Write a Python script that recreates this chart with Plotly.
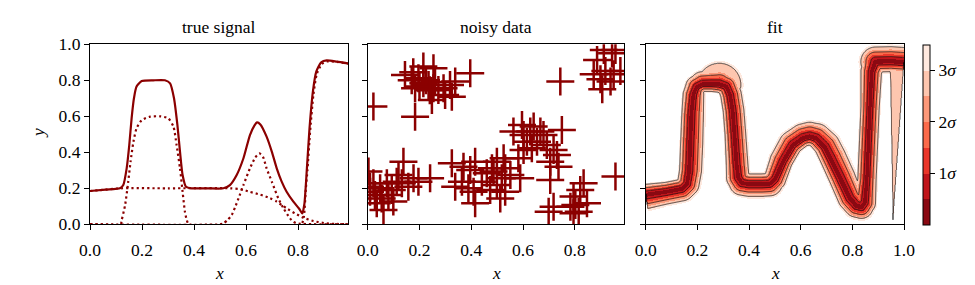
import numpy as np
import plotly.graph_objects as go

DARKRED = '#8b0000'
FONT = 'Liberation Serif, DejaVu Serif, serif'
FS = 17.5

# ---------------- true signal (left panel) ----------------
total_x = [0.0, 0.06, 0.115, 0.128, 0.141, 0.151, 0.160, 0.169, 0.179, 0.199, 0.244, 0.288,
           0.308, 0.323, 0.336, 0.346, 0.356, 0.369, 0.391, 0.45, 0.513, 0.538, 0.564, 0.59,
           0.615, 0.632, 0.642, 0.655, 0.679, 0.699, 0.718, 0.737, 0.756, 0.782, 0.805, 0.816,
           0.824, 0.834, 0.844, 0.857, 0.870, 0.889, 0.91, 0.949, 0.992]
total_y = [0.185, 0.193, 0.2, 0.218, 0.311, 0.44, 0.589, 0.70, 0.765, 0.796, 0.80, 0.80,
           0.783, 0.70, 0.552, 0.404, 0.274, 0.209, 0.2, 0.2, 0.2, 0.218, 0.274, 0.367,
           0.496, 0.548, 0.566, 0.555, 0.487, 0.404, 0.311, 0.237, 0.181, 0.126, 0.085, 0.06,
           0.11, 0.311, 0.533, 0.737, 0.848, 0.90, 0.911, 0.904, 0.894]

baseline_x = [0.0, 0.06, 0.12, 0.30, 0.54, 0.58, 0.615, 0.654, 0.692, 0.718, 0.737, 0.756,
              0.788, 0.82, 0.859, 0.91, 0.95, 0.992]
baseline_y = [0.185, 0.193, 0.2, 0.2, 0.2, 0.195, 0.18, 0.165, 0.145, 0.126, 0.107, 0.089,
              0.061, 0.037, 0.018, 0.005, 0.002, 0.0]

plateau_x = [0.0, 0.118, 0.122, 0.135, 0.147, 0.156, 0.167, 0.179, 0.199, 0.231, 0.269, 0.301,
             0.321, 0.333, 0.346, 0.356, 0.365, 0.372, 0.38, 0.992]
plateau_y = [0.0, 0.0, 0.024, 0.107, 0.237, 0.348, 0.459, 0.533, 0.579, 0.598, 0.60, 0.589,
             0.542, 0.44, 0.311, 0.181, 0.07, 0.024, 0.0, 0.0]

peak_x = [0.0, 0.50, 0.513, 0.53, 0.545, 0.558, 0.571, 0.59, 0.615, 0.635, 0.651, 0.665,
          0.679, 0.699, 0.724, 0.744, 0.769, 0.782, 0.795, 0.992]
peak_y = [0.0, 0.0, 0.005, 0.025, 0.052, 0.095, 0.144, 0.218, 0.311, 0.37, 0.394, 0.375,
          0.311, 0.237, 0.144, 0.089, 0.033, 0.015, 0.005, 0.0]

step_x = [0.0, 0.812, 0.822, 0.83, 0.836, 0.846, 0.859, 0.872, 0.891, 0.91, 0.949, 0.992]
step_y = [0.0, 0.0, 0.04, 0.2, 0.3, 0.51, 0.72, 0.835, 0.89, 0.905, 0.902, 0.892]

# ---------------- noisy data (middle panel) ----------------
noisy_x = [0.215, 0.254, 0.144, 0.176, 0.196, 0.215, 0.235, 0.254, 0.273, 0.293, 0.318, 0.338,
           0.248, 0.325, 0.396, 0.183, 0.299, 0.225, 0.26, 0.17, 0.2, 0.24,
           0.022, 0.183,
           0.003, 0.138, 0.241, 0.022, 0.048, 0.074, 0.093, 0.112, 0.132, 0.157, 0.177, 0.028,
           0.054, 0.08, 0.099, 0.061, 0.035, 0.009, 0.119, 0.196, 0.009,
           0.325, 0.37, 0.396, 0.415, 0.338, 0.364, 0.389, 0.409, 0.415, 0.441, 0.46, 0.48,
           0.499, 0.525, 0.486, 0.518, 0.499, 0.531, 0.512, 0.589, 0.551, 0.705, 0.531, 0.473,
           0.596, 0.641, 0.563, 0.602, 0.667, 0.75, 0.615, 0.654, 0.692, 0.718, 0.731, 0.634,
           0.602, 0.705, 0.737, 0.582, 0.679, 0.628,
           0.834, 0.821, 0.795, 0.847, 0.802, 0.783, 0.718, 0.699, 0.815, 0.795,
           0.912, 0.944, 0.886, 0.918, 0.95, 0.873, 0.976, 0.899, 0.906, 0.938, 0.957,
           0.744, 0.957]
noisy_y = [0.876, 0.867, 0.83, 0.845, 0.811, 0.783, 0.774, 0.756, 0.746, 0.756, 0.774, 0.793,
           0.691, 0.709, 0.839, 0.756, 0.719, 0.8, 0.79, 0.8, 0.765, 0.745,
           0.654, 0.598,
           0.293, 0.348, 0.256, 0.228, 0.2, 0.228, 0.19, 0.237, 0.228, 0.209, 0.256, 0.163,
           0.144, 0.163, 0.126, 0.08, 0.117, 0.181, 0.274, 0.237, 0.209,
           0.339, 0.32, 0.302, 0.348, 0.209, 0.237, 0.2, 0.181, 0.117, 0.237, 0.283, 0.311,
           0.348, 0.367, 0.293, 0.256, 0.219, 0.181, 0.144, 0.256, 0.274, 0.246, 0.311, 0.191,
           0.552, 0.543, 0.515, 0.496, 0.515, 0.524, 0.459, 0.459, 0.441, 0.413, 0.385, 0.422,
           0.413, 0.348, 0.32, 0.367, 0.496, 0.515,
           0.228, 0.191, 0.154, 0.117, 0.107, 0.098, 0.098, 0.07, 0.07, 0.061,
           0.969, 0.95, 0.913, 0.852, 0.833, 0.833, 0.852, 0.806, 0.75, 0.794, 0.969,
           0.793, 0.265]

# ---------------- fit (right panel) ----------------
fit_x = [0.0, 0.08, 0.14, 0.158, 0.166, 0.170, 0.175, 0.183, 0.197, 0.22,
         0.255, 0.285, 0.31, 0.325, 0.335, 0.342, 0.35, 0.358, 0.372, 0.40,
         0.45, 0.48, 0.50, 0.533, 0.571, 0.61, 0.635, 0.66, 0.69, 0.713,
         0.752, 0.79, 0.815, 0.835, 0.848, 0.856, 0.862, 0.868, 0.875, 0.89,
         0.95, 1.0]
fit_y = [0.167, 0.183, 0.20, 0.225, 0.30, 0.45, 0.62, 0.72, 0.765, 0.778,
         0.778, 0.775, 0.765, 0.72, 0.63, 0.50, 0.34, 0.26, 0.232, 0.225,
         0.225, 0.228, 0.25, 0.35, 0.44, 0.478, 0.487, 0.475, 0.43, 0.367,
         0.256, 0.144, 0.105, 0.098, 0.12, 0.25, 0.45, 0.65, 0.85, 0.903,
         0.905, 0.90]
# 1-sigma and 3-sigma distances of the band edges, upper/left side and lower/right side
fit_up1 = [0.018, 0.017, 0.017, 0.017, 0.017, 0.017, 0.017, 0.018, 0.02, 0.023,
           0.025, 0.028, 0.024, 0.022, 0.022, 0.022, 0.022, 0.02, 0.018, 0.018,
           0.018, 0.018, 0.02, 0.025, 0.027, 0.027, 0.027, 0.028, 0.03, 0.03,
           0.028, 0.025, 0.023, 0.023, 0.02, 0.017, 0.017, 0.017, 0.02, 0.027,
           0.027, 0.027]
fit_up3 = [0.055, 0.05, 0.05, 0.05, 0.05, 0.05, 0.05, 0.055, 0.06, 0.07,
           0.085, 0.12, 0.08, 0.065, 0.065, 0.065, 0.065, 0.06, 0.055, 0.055,
           0.055, 0.055, 0.06, 0.075, 0.08, 0.08, 0.08, 0.085, 0.09, 0.09,
           0.085, 0.075, 0.07, 0.07, 0.06, 0.05, 0.05, 0.05, 0.06, 0.082,
           0.082, 0.082]
fit_lo1 = [0.027, 0.023, 0.023, 0.023, 0.024, 0.024, 0.023, 0.02, 0.015, 0.013,
           0.013, 0.014, 0.015, 0.017, 0.017, 0.017, 0.018, 0.022, 0.023, 0.023,
           0.023, 0.023, 0.02, 0.017, 0.016, 0.015, 0.015, 0.016, 0.017, 0.018,
           0.02, 0.022, 0.022, 0.022, 0.02, 0.017, 0.017, 0.017, 0.018, 0.019,
           0.019, 0.019]
fit_lo3 = [0.08, 0.07, 0.07, 0.07, 0.072, 0.073, 0.07, 0.06, 0.045, 0.04,
           0.04, 0.042, 0.045, 0.05, 0.05, 0.05, 0.055, 0.065, 0.07, 0.07,
           0.07, 0.07, 0.06, 0.05, 0.048, 0.045, 0.045, 0.048, 0.052, 0.055,
           0.06, 0.065, 0.065, 0.065, 0.06, 0.052, 0.052, 0.052, 0.055, 0.057,
           0.057, 0.88]

band_colors = ['rgb(138,9,18)', 'rgb(192,21,27)', 'rgb(234,54,42)', 'rgb(251,106,74)',
               'rgb(252,152,121)', 'rgb(253,198,175)', 'rgb(254,233,223)']
sigma_levels = [1, 2, 3]
sigma_labels = ['1<i>σ</i>', '2<i>σ</i>', '3<i>σ</i>']
xtick_vals = [0.0, 0.2, 0.4, 0.6, 0.8, 1.0]
ytick_vals = [0.0, 0.2, 0.4, 0.6, 0.8, 1.0]

# ---------------- sigma field for the fit panel ----------------
PXW, PXH = 258.3, 180.0
gx = np.linspace(0, 1, 517)
gy = np.linspace(0, 1, 361)
GX, GY = np.meshgrid(gx * PXW, gy * PXH)
vx = np.array(fit_x) * PXW
vy = np.array(fit_y) * PXH
u1 = np.array(fit_up1) * PXH
u3 = np.array(fit_up3) * PXH
l1 = np.array(fit_lo1) * PXH
l3 = np.array(fit_lo3) * PXH


def sig_map(d, s1, s3):
    inner = 2.5 * s1
    mid = 2.5 + 0.5 * (d - inner) / np.maximum(s3 - inner, 1e-6)
    outer = 3 + (d - s3) / s1
    return np.where(d <= inner, d / s1, np.where(d <= s3, mid, outer))


Z = np.full(GX.shape, np.inf)
n = len(vx)
for i in range(n - 1):
    ax_, ay_ = vx[i], vy[i]
    dx, dy = vx[i + 1] - ax_, vy[i + 1] - ay_
    L2 = dx * dx + dy * dy
    traw = ((GX - ax_) * dx + (GY - ay_) * dy) / L2
    t = np.clip(traw, 0, 1)
    d = np.hypot(GX - (ax_ + t * dx), GY - (ay_ + t * dy))
    upper = (dx * (GY - ay_) - dy * (GX - ax_)) >= 0
    s1 = np.where(upper, u1[i] + t * (u1[i + 1] - u1[i]), l1[i] + t * (l1[i + 1] - l1[i]))
    s3 = np.where(upper, u3[i] + t * (u3[i + 1] - u3[i]), l3[i] + t * (l3[i + 1] - l3[i]))
    z = sig_map(d, s1, s3)
    z = np.where((traw >= 0) & (traw <= 1), z, np.inf)
    Z = np.minimum(Z, z)
# round joins at interior vertices (end vertices sit on the panel edges)
for j in range(1, n - 1):
    dx, dy = vx[j + 1] - vx[j - 1], vy[j + 1] - vy[j - 1]
    d = np.hypot(GX - vx[j], GY - vy[j])
    upper = (dx * (GY - vy[j]) - dy * (GX - vx[j])) >= 0
    s1 = np.where(upper, u1[j], l1[j])
    s3 = np.where(upper, u3[j], l3[j])
    Z = np.minimum(Z, sig_map(d, s1, s3))
Z = np.minimum(Z, 5).round(3)

# discrete colour scale: 7 bands of 0.5 sigma, then white beyond 3.5 sigma
heat_scale = []
for k, c in enumerate(band_colors + ['rgb(255,255,255)']):
    heat_scale += [[k / 8, c], [(k + 1) / 8, c]]
bar_scale = []
for k, c in enumerate(band_colors):
    bar_scale += [[k / 7, c], [(k + 1) / 7, c]]

fig = go.Figure()

# left panel
dotted = '2.2px,3.0px'
for xs, ys in [(baseline_x, baseline_y), (plateau_x, plateau_y), (peak_x, peak_y), (step_x, step_y)]:
    fig.add_trace(go.Scatter(x=xs, y=ys, mode='lines', xaxis='x', yaxis='y',
                             line=dict(color=DARKRED, width=2.2, dash=dotted, shape='spline', smoothing=0.6),
                             showlegend=False, hoverinfo='skip'))
fig.add_trace(go.Scatter(x=total_x, y=total_y, mode='lines', xaxis='x', yaxis='y',
                         line=dict(color=DARKRED, width=2.2, shape='spline', smoothing=0.6),
                         showlegend=False, hoverinfo='skip'))

# middle panel
fig.add_trace(go.Scatter(x=noisy_x, y=noisy_y, mode='markers', xaxis='x2', yaxis='y2',
                         marker=dict(symbol='cross-thin', size=20, color=DARKRED,
                                     line=dict(color=DARKRED, width=2.5)),
                         showlegend=False, hoverinfo='skip'))

# right panel
fig.add_trace(go.Heatmap(x=gx, y=gy, z=Z, xaxis='x3', yaxis='y3', zmin=0, zmax=4,
                         colorscale=heat_scale, showscale=False, zsmooth=False,
                         hoverinfo='skip'))
fig.add_trace(go.Contour(x=gx, y=gy, z=Z, xaxis='x3', yaxis='y3', autocontour=False,
                         contours=dict(start=1, end=3, size=1, coloring='none', showlines=True),
                         line=dict(color='#111111', width=0.75), showscale=False,
                         showlegend=False, hoverinfo='skip'))
fig.add_trace(go.Scatter(x=[None], y=[None], mode='markers', xaxis='x3', yaxis='y3',
                         marker=dict(color=[0], cmin=0, cmax=3.5, colorscale=bar_scale,
                                     showscale=True,
                                     colorbar=dict(x=923.3 / 975, xanchor='left', xpad=0,
                                                   y=(285 - 224.5) / 285, yanchor='bottom', ypad=0,
                                                   len=180 / 285, lenmode='fraction',
                                                   thickness=7, thicknessmode='pixels',
                                                   outlinewidth=1, outlinecolor='black',
                                                   tickvals=sigma_levels, ticktext=sigma_labels,
                                                   ticks='outside', ticklen=5, tickwidth=1,
                                                   tickcolor='black',
                                                   tickfont=dict(family=FONT, size=FS, color='black'))),
                         showlegend=False, hoverinfo='skip'))

ydom = [(285 - 224.3) / 285, (285 - 44.3) / 285]
axis_common = dict(showline=True, linecolor='black', linewidth=1.25, mirror=True,
                   ticks='outside', ticklen=5, tickwidth=1, tickcolor='black',
                   showgrid=False, zeroline=False,
                   tickfont=dict(family=FONT, size=FS, color='black'))


def xa(dom, rng, anchor):
    vals = [v for v in xtick_vals if v <= rng[1] + 1e-9]
    return dict(domain=dom, range=rng, anchor=anchor, tickvals=vals, ticklabelstandoff=5,
                ticktext=['%.1f' % v for v in vals], **axis_common)


def ya(anchor, labels):
    return dict(domain=ydom, range=[0, 1], anchor=anchor, tickvals=ytick_vals,
                ticktext=['%.1f' % v for v in ytick_vals], showticklabels=labels, **axis_common)


fig.update_layout(
    width=975, height=285, margin=dict(l=0, r=0, t=0, b=0, autoexpand=False),
    paper_bgcolor='white', plot_bgcolor='white', hovermode=False, showlegend=False,
    xaxis=xa([90 / 975, 348 / 975], [0, 0.992], 'y'),
    yaxis=ya('x', True),
    xaxis2=xa([367.7 / 975, 624 / 975], [0, 0.99], 'y2'),
    yaxis2=ya('x2', False),
    xaxis3=xa([645.7 / 975, 904 / 975], [0, 1.0], 'y3'),
    yaxis3=ya('x3', False),
)

annots = []
for cx, title in [(219, 'true signal'), (496, 'noisy data'), (775, 'fit')]:
    annots.append(dict(x=cx / 975, y=(285 - 27) / 285, xref='paper', yref='paper', text=title,
                       showarrow=False, xanchor='center', yanchor='middle',
                       font=dict(family=FONT, size=FS, color='black')))
    annots.append(dict(x=cx / 975, y=(285 - 273) / 285, xref='paper', yref='paper', text='<i>x</i>',
                       showarrow=False, xanchor='center', yanchor='middle',
                       font=dict(family=FONT, size=FS, color='black')))
annots.append(dict(x=38 / 975, y=(285 - 133) / 285, xref='paper', yref='paper', text='<i>y</i>',
                   showarrow=False, xanchor='center', yanchor='middle', textangle=-90,
                   font=dict(family=FONT, size=FS, color='black')))
fig.update_layout(annotations=annots)

fig.write_html('out.html')
